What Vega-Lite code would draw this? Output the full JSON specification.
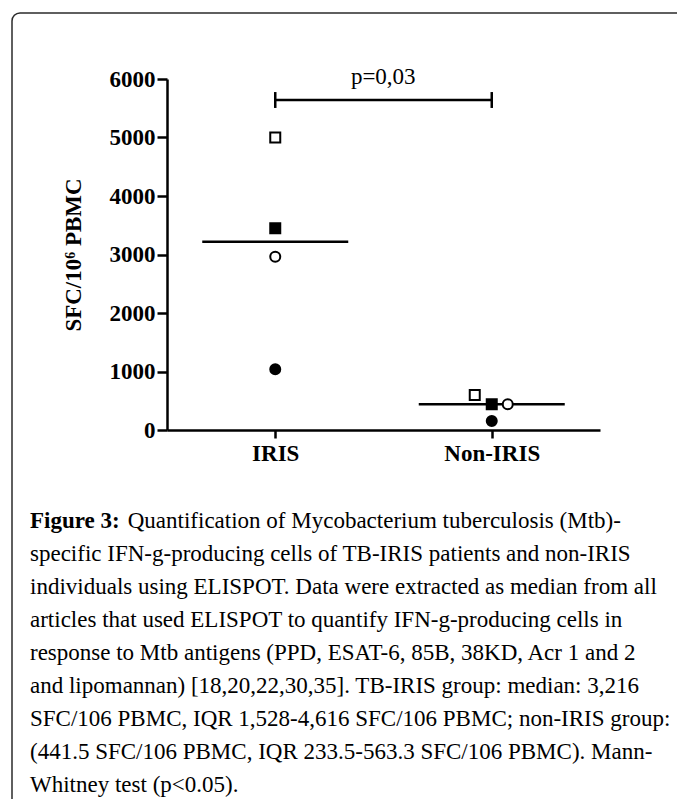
{
  "$schema": "https://vega.github.io/schema/vega-lite/v6.json",
  "width": 433,
  "height": 351,
  "autosize": "none",
  "padding": {"left": 167, "top": 79, "right": 77, "bottom": 369},
  "background": "white",
  "config": {
    "view": {"stroke": null},
    "font": "Liberation Serif",
    "axis": {"labelFont": "Liberation Serif", "titleFont": "Liberation Serif", "labelColor": "black", "titleColor": "black", "domainColor": "black", "tickColor": "black", "domainWidth": 2.5, "tickWidth": 2.5, "grid": false, "labelFontWeight": "bold", "titleFontWeight": "bold", "labelFontSize": 23, "titleFontSize": 23}
  },
  "datasets": {
    "points": [
      {"group": "IRIS", "study": "S1", "value": 5000},
      {"group": "IRIS", "study": "S2", "value": 3450},
      {"group": "IRIS", "study": "S3", "value": 2960},
      {"group": "IRIS", "study": "S4", "value": 1040},
      {"group": "Non-IRIS", "study": "S1", "value": 600},
      {"group": "Non-IRIS", "study": "S2", "value": 440},
      {"group": "Non-IRIS", "study": "S3", "value": 440},
      {"group": "Non-IRIS", "study": "S4", "value": 155}
    ],
    "medians": [
      {"group": "IRIS", "median": 3216},
      {"group": "Non-IRIS", "median": 441.5}
    ],
    "bracket": [
      {"group": "IRIS", "label": "p=0,03", "level": 5641}
    ],
    "bracketEnds": [
      {"group": "IRIS", "lo": 5505, "hi": 5777},
      {"group": "Non-IRIS", "lo": 5505, "hi": 5777}
    ]
  },
  "title": {
    "text": "Figure 3:",
    "subtitle": [
      "\u200b\u00a0\u00a0\u00a0\u00a0\u00a0\u00a0\u00a0\u00a0\u00a0\u00a0\u00a0\u00a0\u00a0\u00a0\u00a0\u00a0 Quantification of Mycobacterium tuberculosis (Mtb)-",
      "specific IFN-g-producing cells of TB-IRIS patients and non-IRIS",
      "individuals using ELISPOT. Data were extracted as median from all",
      "articles that used ELISPOT to quantify IFN-g-producing cells in",
      "response to Mtb antigens (PPD, ESAT-6, 85B, 38KD, Acr 1 and 2",
      "and lipomannan) [18,20,22,30,35]. TB-IRIS group: median: 3,216",
      "SFC/106 PBMC, IQR 1,528-4,616 SFC/106 PBMC; non-IRIS group:",
      "(441.5 SFC/106 PBMC, IQR 233.5-563.3 SFC/106 PBMC). Mann-",
      "Whitney test (p<0.05)."
    ],
    "orient": "bottom",
    "anchor": "start",
    "frame": "group",
    "dx": -137,
    "offset": -300,
    "font": "Liberation Serif",
    "fontSize": 23,
    "fontWeight": "bold",
    "color": "black",
    "subtitleFont": "Liberation Serif",
    "subtitleFontSize": 23,
    "subtitleColor": "black",
    "subtitleLineHeight": 33,
    "subtitlePadding": -23
  },
  "layer": [
    {
      "data": {"values": [{}]},
      "mark": {"type": "rect", "fill": null, "stroke": "#2b2b2b", "strokeWidth": 1.5, "cornerRadius": 8},
      "encoding": {
        "x": {"value": -155},
        "x2": {"value": 540},
        "y": {"value": -66},
        "y2": {"value": 730}
      }
    },
    {
      "data": {"name": "medians"},
      "mark": {"type": "tick", "color": "black", "size": 146, "thickness": 2.5, "opacity": 1},
      "encoding": {
        "x": {"field": "group", "type": "nominal", "scale": {"type": "point", "padding": 0.5, "domain": ["IRIS", "Non-IRIS"]}, "axis": {"title": null, "labelAngle": 0, "tickSize": 8, "labelPadding": 4}},
        "y": {"field": "median", "type": "quantitative", "scale": {"domain": [0, 6000], "nice": false}, "axis": {"title": "SFC/10\u2076 PBMC", "values": [0, 1000, 2000, 3000, 4000, 5000, 6000], "tickSize": 10, "labelPadding": 2, "titlePadding": 24, "format": "d"}}
      }
    },
    {
      "data": {"name": "points"},
      "transform": [{"filter": "datum.group === 'IRIS' || datum.study === 'S2' || datum.study === 'S4'"}],
      "mark": {"type": "point", "filled": true, "stroke": "black", "strokeWidth": 2, "size": 100, "opacity": 1},
      "encoding": {
        "x": {"field": "group", "type": "nominal"},
        "y": {"field": "value", "type": "quantitative"},
        "shape": {"field": "study", "type": "nominal", "scale": {"domain": ["S1", "S2", "S3", "S4"], "range": ["square", "square", "circle", "circle"]}, "legend": null},
        "fill": {"field": "study", "type": "nominal", "scale": {"domain": ["S1", "S2", "S3", "S4"], "range": ["white", "black", "white", "black"]}, "legend": null}
      }
    },
    {
      "data": {"name": "points"},
      "transform": [{"filter": "datum.group === 'Non-IRIS' && datum.study === 'S1'"}],
      "mark": {"type": "point", "filled": true, "stroke": "black", "strokeWidth": 2, "size": 100, "opacity": 1},
      "encoding": {
        "x": {"field": "group", "type": "nominal"},
        "xOffset": {"value": -17},
        "y": {"field": "value", "type": "quantitative"},
        "shape": {"field": "study", "type": "nominal", "legend": null},
        "fill": {"field": "study", "type": "nominal", "legend": null}
      }
    },
    {
      "data": {"name": "points"},
      "transform": [{"filter": "datum.group === 'Non-IRIS' && datum.study === 'S3'"}],
      "mark": {"type": "point", "filled": true, "stroke": "black", "strokeWidth": 2, "size": 100, "opacity": 1},
      "encoding": {
        "x": {"field": "group", "type": "nominal"},
        "xOffset": {"value": 16},
        "y": {"field": "value", "type": "quantitative"},
        "shape": {"field": "study", "type": "nominal", "legend": null},
        "fill": {"field": "study", "type": "nominal", "legend": null}
      }
    },
    {
      "data": {"name": "bracket"},
      "mark": {"type": "rule", "color": "black", "strokeWidth": 2.5},
      "encoding": {
        "x": {"field": "group", "type": "nominal"},
        "x2": {"datum": "Non-IRIS"},
        "y": {"field": "level", "type": "quantitative"}
      }
    },
    {
      "data": {"name": "bracketEnds"},
      "mark": {"type": "rule", "color": "black", "strokeWidth": 2.5},
      "encoding": {
        "x": {"field": "group", "type": "nominal"},
        "y": {"field": "lo", "type": "quantitative"},
        "y2": {"field": "hi"}
      }
    },
    {
      "data": {"name": "bracket"},
      "mark": {"type": "text", "font": "Liberation Serif", "fontSize": 23, "color": "black", "dx": 108, "dy": -16, "baseline": "alphabetic"},
      "encoding": {
        "x": {"field": "group", "type": "nominal"},
        "y": {"field": "level", "type": "quantitative"},
        "text": {"field": "label"}
      }
    }
  ]
}
